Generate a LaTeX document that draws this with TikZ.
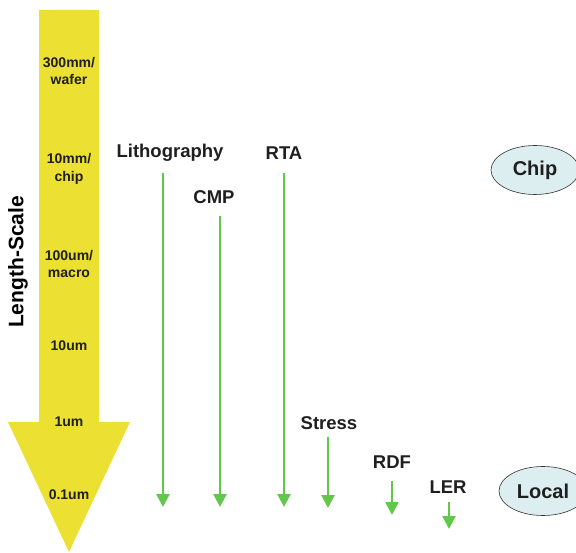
\documentclass[tikz,border=0pt]{standalone}
\usepackage{fontspec}
\setmainfont{Liberation Sans}
\usetikzlibrary{arrows.meta,shapes.geometric}
\definecolor{scaleyellow}{RGB}{236,224,50}
\definecolor{procgreen}{RGB}{98,200,74}
\definecolor{ovalfill}{RGB}{221,238,240}
\begin{document}
\begin{tikzpicture}[x=1pt,y=-1pt,
  scalelbl/.style={font=\fontsize{14}{17.5}\selectfont\bfseries,align=center,text=black!88},
  proclbl/.style={font=\fontsize{18.5}{22}\selectfont\bfseries,text=black!88},
  procarrow/.style={draw=procgreen,line width=2.6pt,-{Triangle[width=13pt,length=13pt]}},
  oval/.style={ellipse,draw=black!80,line width=0.6pt,fill=ovalfill,minimum width=88pt,minimum height=49pt,font=\fontsize{20}{24}\selectfont\bfseries,text=black!88}]
\useasboundingbox (0,0) rectangle (576,553);
% big scale arrow
\fill[scaleyellow] (39,10) -- (99,10) -- (99,422) -- (130,422) -- (69,552) -- (8,422) -- (39,422) -- cycle;
\node[scalelbl] (s1) at (69,71) {300mm/\\wafer};
\node[scalelbl] (s2) at (69,169) {10mm/\\chip};
\node[scalelbl] (s3) at (69,264) {100um/\\macro};
\node[scalelbl] (s4) at (69,346) {10um};
\node[scalelbl] (s5) at (69,422) {1um};
\node[scalelbl] (s6) at (69,495) {0.1um};
\node[font=\fontsize{21}{24}\selectfont\bfseries,rotate=90] (ls) at (18,262) {Length-Scale};
% process labels
\node[proclbl] (litho) at (170,153) {Lithography};
\node[proclbl] (rta) at (284,153) {RTA};
\node[proclbl] (cmp) at (214,197) {CMP};
\node[proclbl] (stress) at (329,423) {Stress};
\node[proclbl] (rdf) at (392,462) {RDF};
\node[proclbl] (ler) at (448,487) {LER};
% arrow ends
\coordinate (a1s) at (163,173); \coordinate (a1e) at (163,507);
\coordinate (a2s) at (220,216); \coordinate (a2e) at (220,507);
\coordinate (a3s) at (284,173); \coordinate (a3e) at (284,507);
\coordinate (a4s) at (328,437); \coordinate (a4e) at (328,508);
\coordinate (a5s) at (392,481); \coordinate (a5e) at (392,515);
\coordinate (a6s) at (449,502); \coordinate (a6e) at (449,529);
\draw[procarrow] (a1s) -- (a1e);
\draw[procarrow] (a2s) -- (a2e);
\draw[procarrow] (a3s) -- (a3e);
\draw[procarrow] (a4s) -- (a4e);
\draw[procarrow] (a5s) -- (a5e);
\draw[procarrow] (a6s) -- (a6e);
% ovals
\node[oval] (chip) at (535,170) {Chip};
\node[oval] (local) at (543,491) {Local};
\end{tikzpicture}
\end{document}
